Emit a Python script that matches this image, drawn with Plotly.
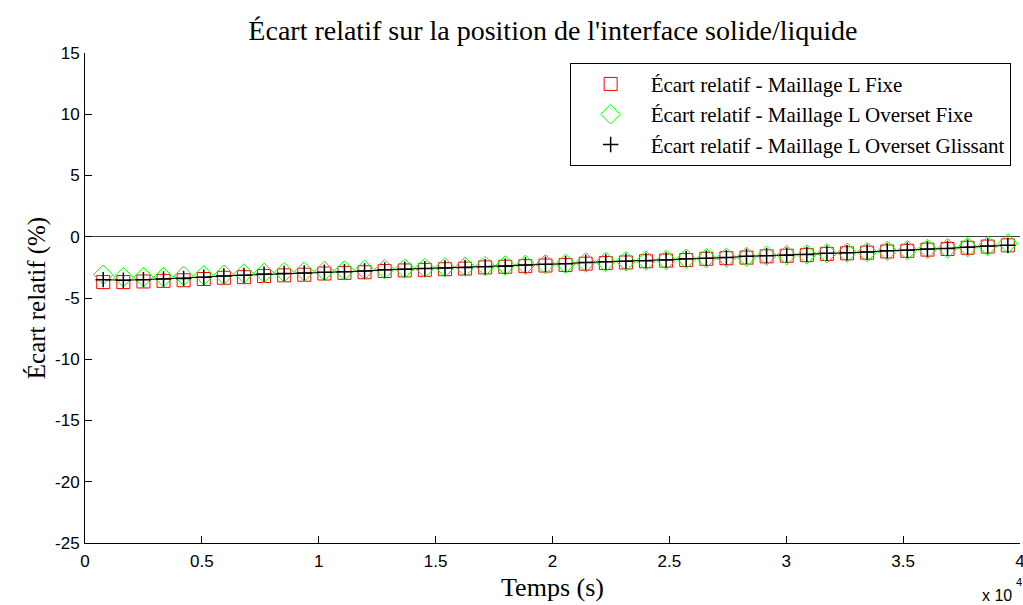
import plotly.graph_objects as go

# Time (s)
temps = [780, 1640, 2500, 3360, 4220, 5080, 5940, 6800, 7660, 8520,
         9380, 10240, 11100, 11960, 12820, 13680, 14540, 15400, 16260, 17120,
         17980, 18840, 19700, 20560, 21420, 22280, 23140, 24000, 24860, 25720,
         26580, 27440, 28300, 29160, 30020, 30880, 31740, 32600, 33460, 34320,
         35180, 36040, 36900, 37760, 38620, 39480]

ecart_fixe = [-3.70, -3.70, -3.65, -3.60, -3.55, -3.45, -3.35, -3.30, -3.20, -3.15,
              -3.10, -3.00, -2.95, -2.90, -2.80, -2.75, -2.70, -2.65, -2.60, -2.50,
              -2.45, -2.40, -2.35, -2.30, -2.20, -2.15, -2.10, -2.00, -1.95, -1.90,
              -1.80, -1.75, -1.70, -1.60, -1.55, -1.50, -1.40, -1.35, -1.30, -1.20,
              -1.15, -1.05, -1.00, -0.90, -0.80, -0.70]

ecart_overset_fixe = [-3.10, -3.30, -3.30, -3.30, -3.20, -3.15, -3.10, -3.00, -2.95, -2.90,
                      -2.85, -2.80, -2.75, -2.70, -2.65, -2.60, -2.55, -2.50, -2.45, -2.40,
                      -2.35, -2.30, -2.25, -2.20, -2.10, -2.05, -2.00, -1.95, -1.90, -1.80,
                      -1.75, -1.70, -1.65, -1.55, -1.50, -1.45, -1.35, -1.30, -1.25, -1.15,
                      -1.10, -1.00, -0.95, -0.85, -0.75, -0.55]

ecart_overset_glissant = [-3.50, -3.55, -3.50, -3.45, -3.40, -3.30, -3.20, -3.15, -3.05, -3.00,
                          -2.95, -2.90, -2.85, -2.80, -2.70, -2.65, -2.60, -2.55, -2.50, -2.45,
                          -2.40, -2.30, -2.25, -2.20, -2.10, -2.05, -2.00, -1.95, -1.90, -1.80,
                          -1.75, -1.70, -1.60, -1.55, -1.50, -1.45, -1.35, -1.30, -1.25, -1.15,
                          -1.10, -1.00, -0.95, -0.85, -0.75, -0.70]

x_tickvals = [0, 5000, 10000, 15000, 20000, 25000, 30000, 35000, 40000]
x_ticktext = ["0", "0.5", "1", "1.5", "2", "2.5", "3", "3.5", "4"]
y_tickvals = [-25, -20, -15, -10, -5, 0, 5, 10, 15]
y_ticktext = ["-25", "-20", "-15", "-10", "-5", "0", "5", "10", "15"]

serif = "Liberation Serif, Times New Roman, serif"
sans = "Liberation Sans, Arial, sans-serif"

fig = go.Figure()
fig.add_trace(go.Scatter(
    x=temps, y=ecart_fixe, mode="markers",
    name="Écart relatif - Maillage L Fixe",
    marker=dict(symbol="square-open", size=13, color="#ff0000", line=dict(width=1, color="#ff0000")),
))
fig.add_trace(go.Scatter(
    x=temps, y=ecart_overset_fixe, mode="markers",
    name="Écart relatif - Maillage L Overset Fixe",
    marker=dict(symbol="diamond-open", size=15, color="#00ff00", line=dict(width=1, color="#00ff00")),
))
fig.add_trace(go.Scatter(
    x=temps, y=ecart_overset_glissant, mode="lines",
    line=dict(color="black", width=1), showlegend=False, hoverinfo="skip",
))
fig.add_trace(go.Scatter(
    x=temps, y=ecart_overset_glissant, mode="markers",
    name="Écart relatif - Maillage L Overset Glissant",
    marker=dict(symbol="cross-thin", size=11, color="black", line=dict(width=1.5, color="black")),
))

fig.update_layout(
    width=1023, height=605,
    margin=dict(l=85, r=3, t=53, b=62, autoexpand=False),
    paper_bgcolor="white", plot_bgcolor="white",
    title=dict(text="Écart relatif sur la position de l'interface solide/liquide",
               font=dict(family=serif, size=28, color="black"),
               x=0.5405, xanchor="center", y=0.950, yanchor="middle"),
    legend=dict(x=0.990, xanchor="right", y=0.98, yanchor="top",
                bgcolor="white", bordercolor="black", borderwidth=1,
                font=dict(family=serif, size=21, color="black"),
                tracegroupgap=0, itemwidth=70),
    showlegend=True,
)
fig.update_xaxes(
    range=[0, 40000], tickvals=x_tickvals, ticktext=x_ticktext,
    showgrid=False, zeroline=False, showline=True, linecolor="black", linewidth=1,
    ticks="inside", ticklen=7, tickcolor="black",
    tickfont=dict(family=sans, size=17, color="black"),
    ticklabelstandoff=3, automargin=False, ticklabeloverflow="allow",
    title=dict(text="Temps (s)", font=dict(family=serif, size=26, color="black"), standoff=7),
)
fig.update_yaxes(
    range=[-25, 15], tickvals=y_tickvals, ticktext=y_ticktext,
    showgrid=False, zeroline=True, zerolinecolor="#404040", zerolinewidth=1,
    showline=True, linecolor="black", linewidth=1,
    ticks="inside", ticklen=7, tickcolor="black",
    tickfont=dict(family=sans, size=17, color="black"),
    ticklabelstandoff=1, automargin=False,
    title=dict(text="Écart relatif (%)", font=dict(family=serif, size=25, color="black"), standoff=2),
)
fig.add_annotation(
    xref="paper", yref="paper", x=0.9934, y=-0.108, xanchor="right", yanchor="middle",
    text="x 10", showarrow=False,
    font=dict(family=sans, size=16, color="black"),
)
fig.add_annotation(
    xref="paper", yref="paper", x=0.9985, y=-0.0796, xanchor="center", yanchor="middle",
    text="4", showarrow=False,
    font=dict(family=sans, size=11, color="black"),
)

fig.write_html("out.html",
               config={"displayModeBar": False},
               post_script="document.body.style.margin='0';document.body.style.overflow='hidden';")
